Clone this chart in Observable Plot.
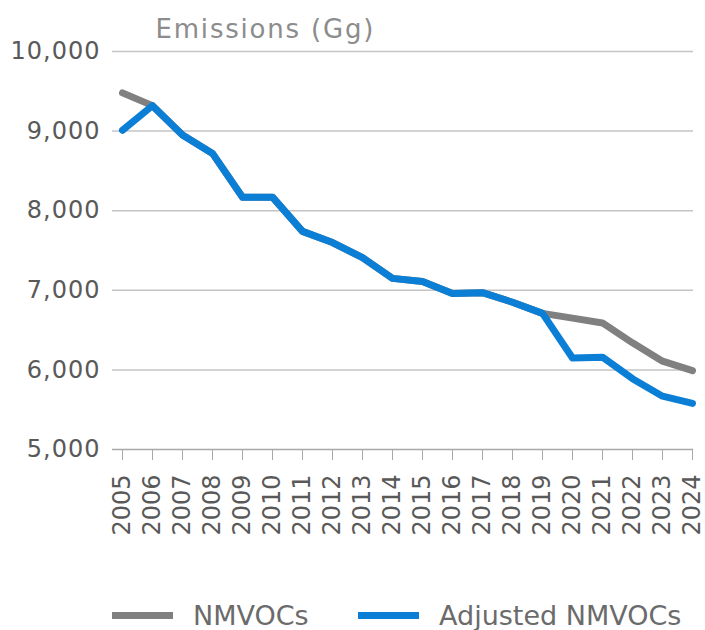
<!DOCTYPE html>
<html>
<head>
<meta charset="utf-8">
<script src="https://cdn.jsdelivr.net/npm/d3@7"></script>
<script src="https://cdn.jsdelivr.net/npm/@observablehq/plot@0.6"></script>
<style>
  html, body { margin: 0; padding: 0; background: #fff; }
  body { width: 705px; height: 630px; overflow: hidden; font-family: "DejaVu Sans", sans-serif; }
  #legend { position: absolute; left: 0; top: 595px; width: 705px; height: 40px; }
  .item { position: absolute; top: 0; height: 40px; display: flex; align-items: center; }
  .sw { width: 61px; height: 7px; margin-right: 20px; }
  .lab { font-size: 27px; color: #6b6b6b; white-space: nowrap; }
  g[aria-label="y-axis tick label"] text { letter-spacing: 1px; }
  g[aria-label="text"] text { letter-spacing: 1.8px; }
</style>
</head>
<body>
<div id="chart"></div>
<div id="legend"></div>
<script>
const years = [2005, 2006, 2007, 2008, 2009, 2010, 2011, 2012, 2013, 2014, 2015, 2016, 2017, 2018, 2019, 2020, 2021, 2022, 2023, 2024];
const nmvocs = [9480, 9320, 8950, 8720, 8170, 8170, 7740, 7600, 7410, 7150, 7110, 6960, 6970, 6850, 6710, 6650, 6590, 6340, 6110, 5990];
const adjusted = [9010, 9320, 8950, 8720, 8170, 8170, 7740, 7600, 7410, 7150, 7110, 6960, 6970, 6850, 6710, 6150, 6160, 5890, 5670, 5580];
const yTicks = [5000, 6000, 7000, 8000, 9000, 10000];
const seriesNames = ["NMVOCs", "Adjusted NMVOCs"];
const seriesColors = ["#808080", "#0b7fd6"];
const title = "Emissions (Gg)";

const rows = [];
years.forEach((y, i) => {
  rows.push({year: y, value: nmvocs[i], series: seriesNames[0]});
  rows.push({year: y, value: adjusted[i], series: seriesNames[1]});
});

const fmt = d3.format(",");
const chart = Plot.plot({
  width: 705,
  height: 565,
  marginTop: 51,
  marginBottom: 116,
  marginLeft: 112,
  marginRight: 12,
  style: {fontFamily: "DejaVu Sans, sans-serif", background: "#fff"},
  x: {type: "point", domain: years, padding: 0, insetLeft: 8},
  y: {domain: [5000, 10000]},
  color: {domain: seriesNames, range: seriesColors},
  marks: [
    Plot.ruleY(yTicks.slice(1), {stroke: "#c4c4c4", strokeWidth: 1.5}),
    Plot.ruleY([5000], {stroke: "#a8a8a8", strokeWidth: 1.5}),
    Plot.axisY({ticks: yTicks, tickSize: 0, tickPadding: 12, tickFormat: fmt, label: null,
      fontSize: 24, fill: "#595959"}),
    Plot.axisX({tickRotate: -90, tickSize: 11, tickPadding: 14, label: null, stroke: "#a8a8a8",
      fontSize: 24, fill: "#595959", tickFormat: d => String(d)}),
    Plot.line(rows.filter(d => d.series === seriesNames[0]), {x: "year", y: "value", stroke: "series", strokeWidth: 7}),
    Plot.line(rows.filter(d => d.series === seriesNames[1]), {x: "year", y: "value", stroke: "series", strokeWidth: 7}),
    Plot.text([title], {frameAnchor: "top-left", dx: 43, dy: -22, textAnchor: "start", lineAnchor: "middle",
      fontSize: 26, fill: "#8c8c8c"})
  ]
});
document.getElementById("chart").appendChild(chart);

const legend = document.getElementById("legend");
const lefts = [112, 358];
seriesNames.forEach((n, i) => {
  const it = document.createElement("div");
  it.className = "item";
  it.style.left = lefts[i] + "px";
  const sw = document.createElement("div");
  sw.className = "sw";
  sw.style.background = seriesColors[i];
  const lab = document.createElement("span");
  lab.className = "lab";
  lab.textContent = n;
  it.appendChild(sw); it.appendChild(lab);
  legend.appendChild(it);
});
</script>
</body>
</html>
